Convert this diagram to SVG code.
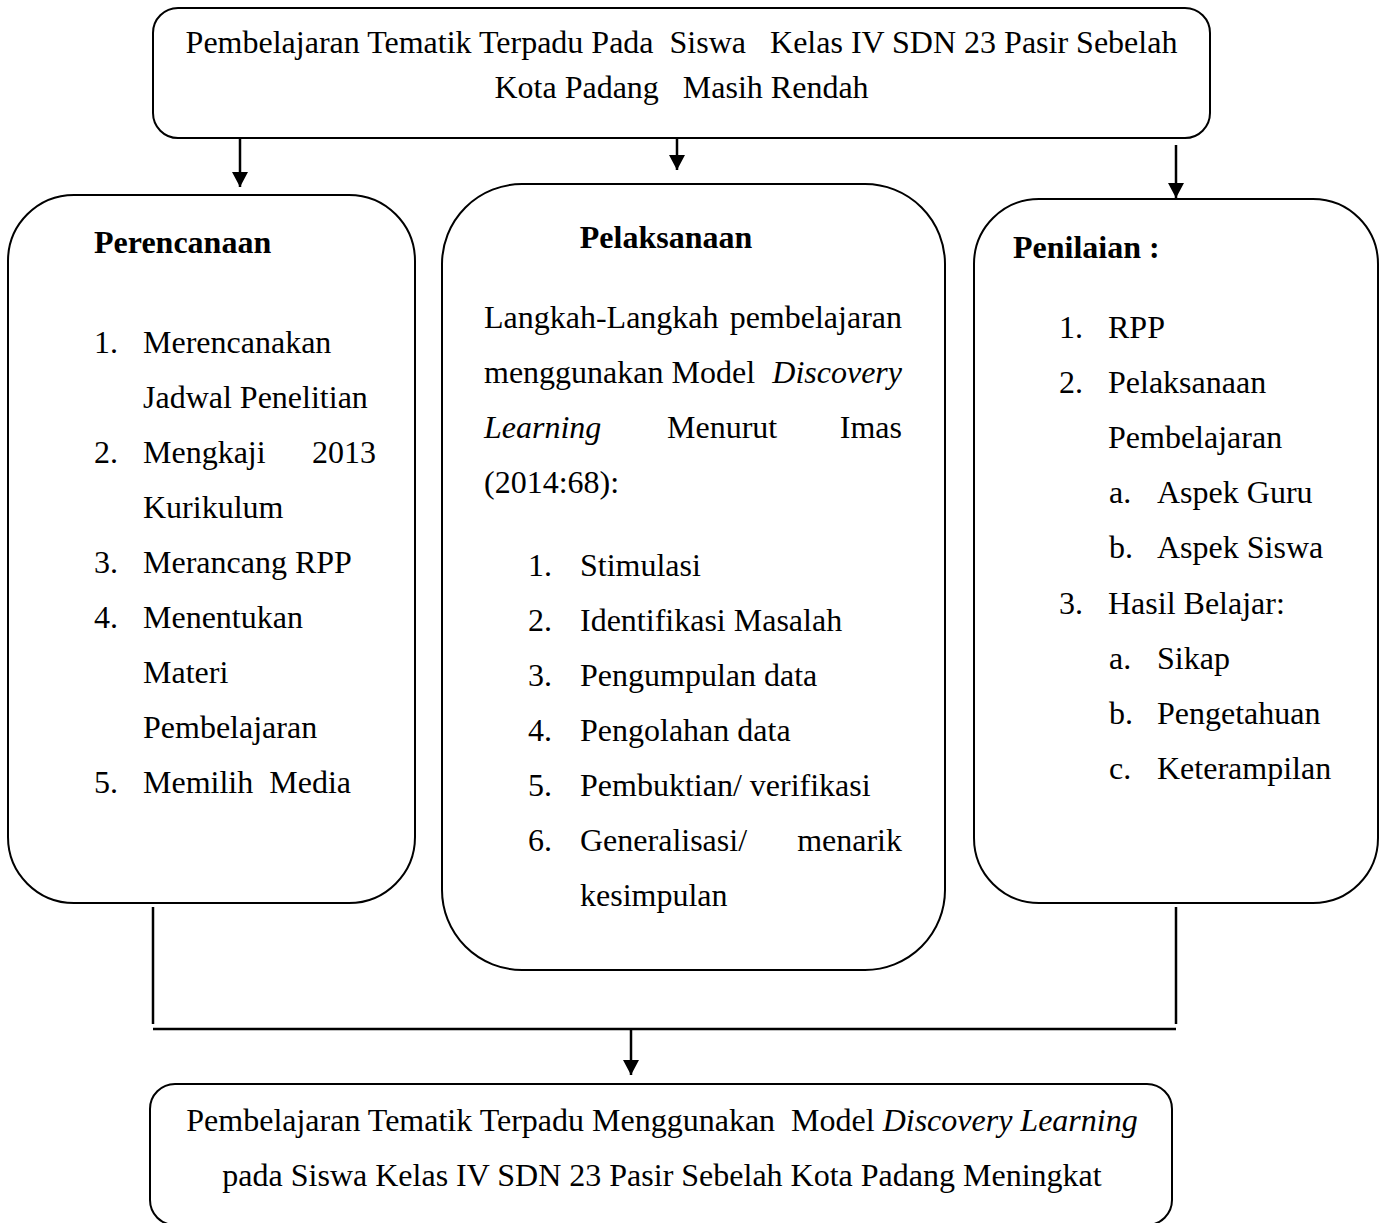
<svg xmlns="http://www.w3.org/2000/svg" width="1385" height="1223" viewBox="0 0 1385 1223">
<style>
text{font-family:"Liberation Serif","Times New Roman",serif;font-size:32px;fill:#000}
.b{font-weight:bold}
.i{font-style:italic}
.c{text-anchor:middle}
.e{text-anchor:end}
.box{fill:#fff;stroke:#000;stroke-width:2}
.ln{fill:none;stroke:#000;stroke-width:2.5}
</style>
<defs>
<marker id="ah" markerUnits="userSpaceOnUse" markerWidth="15" markerHeight="16" refX="15" refY="8" orient="auto">
<path d="M0,0 L15,8 L0,16 z" fill="#000"/>
</marker>
</defs>
<rect width="1385" height="1223" fill="#fff"/>

<g id="top">
<rect class="box" x="153" y="8" width="1057" height="130" rx="25"/>
<text class="c" x="681.5" y="53" xml:space="preserve">Pembelajaran Tematik Terpadu Pada  Siswa   Kelas IV SDN 23 Pasir Sebelah</text>
<text class="c" x="681.5" y="98" xml:space="preserve">Kota Padang   Masih Rendah</text>
</g>

<g id="perencanaan">
<rect class="box" x="8" y="195" width="407" height="708" rx="66"/>
<text class="b" x="94" y="253">Perencanaan</text>
<text x="94" y="353">1.</text><text x="143" y="353">Merencanakan</text>
<text x="143" y="408">Jadwal Penelitian</text>
<text x="94" y="463">2.</text><text x="143" y="463">Mengkaji</text><text class="e" x="376" y="463">2013</text>
<text x="143" y="518">Kurikulum</text>
<text x="94" y="573">3.</text><text x="143" y="573">Merancang RPP</text>
<text x="94" y="628">4.</text><text x="143" y="628">Menentukan</text>
<text x="143" y="683">Materi</text>
<text x="143" y="738">Pembelajaran</text>
<text x="94" y="793">5.</text><text x="143" y="793" xml:space="preserve">Memilih  Media</text>
</g>

<g id="pelaksanaan">
<rect class="box" x="442" y="184" width="503" height="786" rx="80"/>
<text class="b c" x="666" y="248">Pelaksanaan</text>
<text x="484" y="328">Langkah-Langkah</text><text class="e" x="902" y="328">pembelajaran</text>
<text x="484" y="383">menggunakan Model</text><text class="i e" x="902" y="383">Discovery</text>
<text class="i" x="484" y="438">Learning</text><text x="667" y="438">Menurut</text><text class="e" x="902" y="438">Imas</text>
<text x="484" y="493">(2014:68):</text>
<text x="528" y="576">1.</text><text x="580" y="576">Stimulasi</text>
<text x="528" y="631">2.</text><text x="580" y="631">Identifikasi Masalah</text>
<text x="528" y="686">3.</text><text x="580" y="686">Pengumpulan data</text>
<text x="528" y="741">4.</text><text x="580" y="741">Pengolahan data</text>
<text x="528" y="796">5.</text><text x="580" y="796">Pembuktian/ verifikasi</text>
<text x="528" y="851">6.</text><text x="580" y="851">Generalisasi/</text><text class="e" x="902" y="851">menarik</text>
<text x="580" y="906">kesimpulan</text>
</g>

<g id="penilaian">
<rect class="box" x="974" y="199" width="404" height="704" rx="65"/>
<text class="b" x="1013" y="258">Penilaian :</text>
<text x="1059" y="338">1.</text><text x="1108" y="338">RPP</text>
<text x="1059" y="393">2.</text><text x="1108" y="393">Pelaksanaan</text>
<text x="1108" y="448">Pembelajaran</text>
<text x="1109" y="503">a.</text><text x="1157" y="503">Aspek Guru</text>
<text x="1109" y="558">b.</text><text x="1157" y="558">Aspek Siswa</text>
<text x="1059" y="614">3.</text><text x="1108" y="614">Hasil Belajar:</text>
<text x="1109" y="669">a.</text><text x="1157" y="669">Sikap</text>
<text x="1109" y="724">b.</text><text x="1157" y="724">Pengetahuan</text>
<text x="1109" y="779">c.</text><text x="1157" y="779">Keterampilan</text>
</g>

<g id="bottom">
<rect class="box" x="150" y="1084" width="1022" height="141" rx="25"/>
<text class="c" x="662" y="1131" xml:space="preserve">Pembelajaran Tematik Terpadu Menggunakan  Model <tspan class="i">Discovery Learning</tspan></text>
<text class="c" x="662" y="1186">pada Siswa Kelas IV SDN 23 Pasir Sebelah Kota Padang Meningkat</text>
</g>

<g id="connectors">
<line class="ln" x1="240" y1="138" x2="240" y2="187" marker-end="url(#ah)"/>
<line class="ln" x1="677" y1="138" x2="677" y2="170" marker-end="url(#ah)"/>
<line class="ln" x1="1176" y1="145" x2="1176" y2="198" marker-end="url(#ah)"/>
<line class="ln" x1="153" y1="907" x2="153" y2="1024"/>
<line class="ln" x1="1176" y1="907" x2="1176" y2="1024"/>
<line class="ln" x1="153" y1="1029" x2="1176" y2="1029"/>
<line class="ln" x1="631" y1="1029" x2="631" y2="1075" marker-end="url(#ah)"/>
</g>
</svg>
